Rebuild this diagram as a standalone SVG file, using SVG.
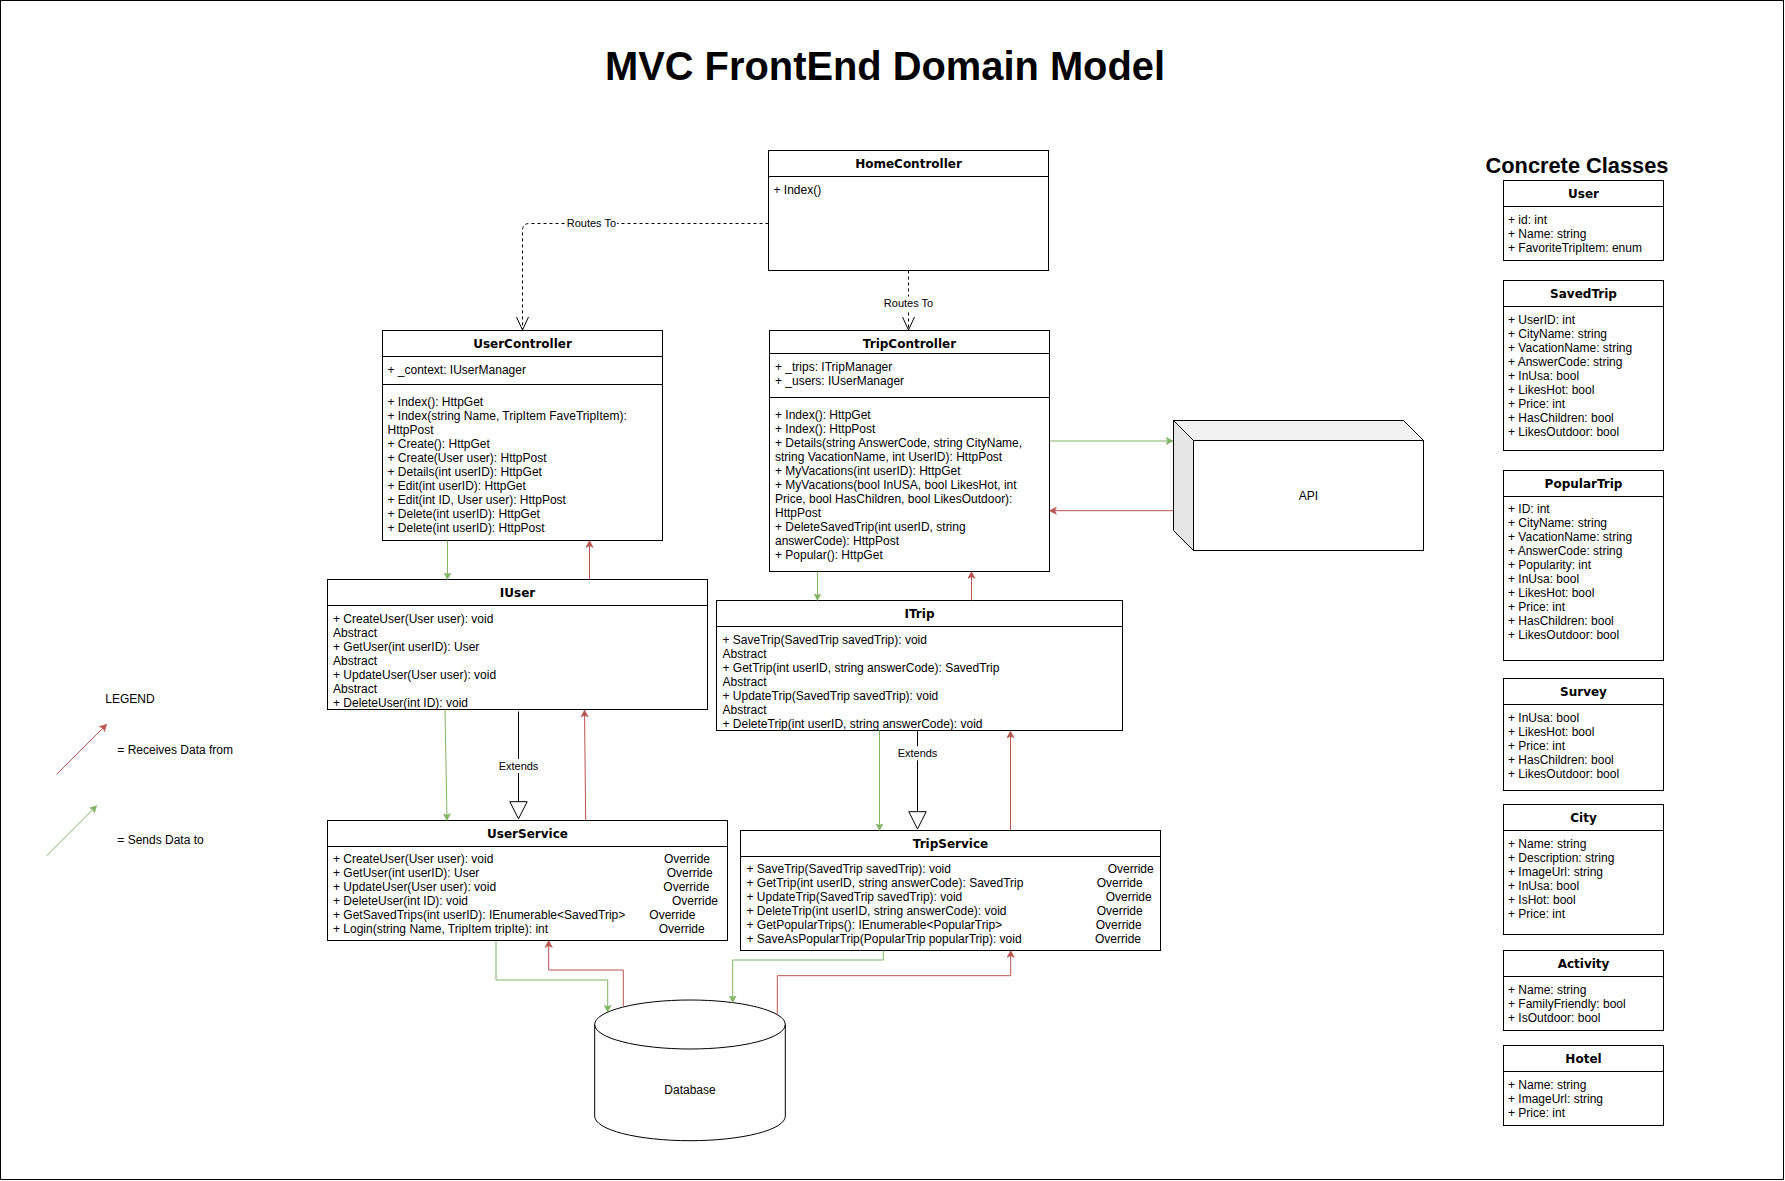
<svg xmlns="http://www.w3.org/2000/svg" width="1785" height="1181" viewBox="0 0 1785 1181">
<style>
.box{fill:#fff;stroke:#000;stroke-width:1}
.ln{stroke:#000;stroke-width:1;fill:none}
.t{font-family:"Liberation Sans",Arial,sans-serif;font-size:12px;fill:#000}
.h{font-family:"DejaVu Sans",Verdana,sans-serif;font-weight:bold;font-size:12px;fill:#000;text-anchor:middle}
.lbl{font-family:"Liberation Sans",Arial,sans-serif;font-size:11px;fill:#000;text-anchor:middle}
.bg{fill:#fff;stroke:none}
.g{stroke:#82b366;stroke-width:1;fill:none;marker-end:url(#ag)}
.r{stroke:#b85450;stroke-width:1;fill:none;marker-end:url(#ar)}
.d{stroke:#000;stroke-width:1;fill:none;stroke-dasharray:3 3;marker-end:url(#open)}
.tri{fill:#fff;stroke:#000;stroke-width:1}
</style>
<defs>
<marker id="ag" viewBox="0 0 7 8" refX="7" refY="4" markerWidth="7" markerHeight="8" markerUnits="userSpaceOnUse" orient="auto"><path d="M0,0.3 L7,4 L0,7.7 L1.8,4 Z" fill="#82b366" stroke="#82b366" stroke-width="0.5"/></marker>
<marker id="ar" viewBox="0 0 7 8" refX="7" refY="4" markerWidth="7" markerHeight="8" markerUnits="userSpaceOnUse" orient="auto"><path d="M0,0.3 L7,4 L0,7.7 L1.8,4 Z" fill="#b85450" stroke="#b85450" stroke-width="0.5"/></marker>
<marker id="open" viewBox="-1 -1 15 14" refX="13" refY="6" markerWidth="15" markerHeight="14" markerUnits="userSpaceOnUse" orient="auto"><path d="M0,0 L13,6 L0,12" fill="none" stroke="#000" stroke-width="1"/></marker>
</defs>
<rect x="0" y="0" width="1785" height="1181" fill="#fff"/>
<rect x="0.5" y="0.5" width="1783" height="1179" fill="none" stroke="#000" stroke-width="1"/>

<text x="885" y="80" font-family="'Liberation Sans',Arial,sans-serif" font-weight="bold" font-size="40" text-anchor="middle" textLength="560" lengthAdjust="spacingAndGlyphs">MVC FrontEnd Domain Model</text>
<text x="1577" y="173" font-family="'Liberation Sans',Arial,sans-serif" font-weight="bold" font-size="22" text-anchor="middle" textLength="183" lengthAdjust="spacingAndGlyphs">Concrete Classes</text>

<g id="HomeController">
<rect class="box" x="768.5" y="150.5" width="280" height="120"/>
<line class="ln" x1="768.5" y1="176.5" x2="1048.5" y2="176.5"/>
<text class="h" x="908.5" y="168">HomeController</text>
<text class="t" x="773.5" y="194">+ Index()</text>
</g>

<g id="UserController">
<rect class="box" x="382.5" y="330.5" width="280" height="210"/>
<line class="ln" x1="382.5" y1="356.5" x2="662.5" y2="356.5"/>
<line class="ln" x1="382.5" y1="384.5" x2="662.5" y2="384.5"/>
<text class="h" x="522.5" y="348">UserController</text>
<text class="t" x="387.5" y="374">+ _context: IUserManager</text>
<text class="t" x="387.5" y="405.7">+ Index(): HttpGet</text>
<text class="t" x="387.5" y="419.7">+ Index(string Name, TripItem FaveTripItem):</text>
<text class="t" x="387.5" y="433.7">HttpPost</text>
<text class="t" x="387.5" y="447.7">+ Create(): HttpGet</text>
<text class="t" x="387.5" y="461.7">+ Create(User user): HttpPost</text>
<text class="t" x="387.5" y="475.7">+ Details(int userID): HttpGet</text>
<text class="t" x="387.5" y="489.7">+ Edit(int userID): HttpGet</text>
<text class="t" x="387.5" y="503.7">+ Edit(int ID, User user): HttpPost</text>
<text class="t" x="387.5" y="517.7">+ Delete(int userID): HttpGet</text>
<text class="t" x="387.5" y="531.7">+ Delete(int userID): HttpPost</text>
</g>

<g id="TripController">
<rect class="box" x="769.5" y="330.5" width="280" height="241"/>
<line class="ln" x1="769.5" y1="353.5" x2="1049.5" y2="353.5"/>
<line class="ln" x1="769.5" y1="397.5" x2="1049.5" y2="397.5"/>
<text class="h" x="909.5" y="347.5">TripController</text>
<text class="t" x="775" y="371">+ _trips: ITripManager</text>
<text class="t" x="775" y="385">+ _users: IUserManager</text>
<text class="t" x="775" y="419">+ Index(): HttpGet</text>
<text class="t" x="775" y="433">+ Index(): HttpPost</text>
<text class="t" x="775" y="447">+ Details(string AnswerCode, string CityName,</text>
<text class="t" x="775" y="461">string VacationName, int UserID): HttpPost</text>
<text class="t" x="775" y="475">+ MyVacations(int userID): HttpGet</text>
<text class="t" x="775" y="489">+ MyVacations(bool InUSA, bool LikesHot, int</text>
<text class="t" x="775" y="503">Price, bool HasChildren, bool LikesOutdoor):</text>
<text class="t" x="775" y="517">HttpPost</text>
<text class="t" x="775" y="531">+ DeleteSavedTrip(int userID, string</text>
<text class="t" x="775" y="545">answerCode): HttpPost</text>
<text class="t" x="775" y="559">+ Popular(): HttpGet</text>
</g>

<g id="API">
<path d="M1193.5,440.5 L1173.5,420.5 L1403.5,420.5 L1423.5,440.5 Z" fill="#f2f2f2" stroke="#000" stroke-width="1"/>
<path d="M1173.5,420.5 L1193.5,440.5 L1193.5,550.5 L1173.5,530.5 Z" fill="#e6e6e6" stroke="#000" stroke-width="1"/>
<rect class="box" x="1193.5" y="440.5" width="230" height="110"/>
<text class="t" x="1308.5" y="500" text-anchor="middle">API</text>
</g>

<g id="IUser">
<rect class="box" x="327.5" y="579.5" width="380" height="130"/>
<line class="ln" x1="327.5" y1="605.5" x2="707.5" y2="605.5"/>
<text class="h" x="517.5" y="597">IUser</text>
<text class="t" x="333" y="622.7">+ CreateUser(User user): void</text>
<text class="t" x="333" y="636.7">Abstract</text>
<text class="t" x="333" y="650.7">+ GetUser(int userID): User</text>
<text class="t" x="333" y="664.7">Abstract</text>
<text class="t" x="333" y="678.7">+ UpdateUser(User user): void</text>
<text class="t" x="333" y="692.7">Abstract</text>
<text class="t" x="333" y="706.7">+ DeleteUser(int ID): void</text>
</g>

<g id="ITrip">
<rect class="box" x="716.5" y="600.5" width="406" height="130"/>
<line class="ln" x1="716.5" y1="626.5" x2="1122.5" y2="626.5"/>
<text class="h" x="919.5" y="617.5">ITrip</text>
<text class="t" x="722.5" y="644">+ SaveTrip(SavedTrip savedTrip): void</text>
<text class="t" x="722.5" y="658">Abstract</text>
<text class="t" x="722.5" y="672">+ GetTrip(int userID, string answerCode): SavedTrip</text>
<text class="t" x="722.5" y="686">Abstract</text>
<text class="t" x="722.5" y="700">+ UpdateTrip(SavedTrip savedTrip): void</text>
<text class="t" x="722.5" y="714">Abstract</text>
<text class="t" x="722.5" y="728">+ DeleteTrip(int userID, string answerCode): void</text>
</g>

<g id="UserService">
<rect class="box" x="327.5" y="820.5" width="400" height="120"/>
<line class="ln" x1="327.5" y1="846.5" x2="727.5" y2="846.5"/>
<text class="h" x="527.5" y="837.5">UserService</text>
<text class="t" x="333" y="863.3">+ CreateUser(User user): void</text>
<text class="t" x="333" y="877.3">+ GetUser(int userID): User</text>
<text class="t" x="333" y="891.3">+ UpdateUser(User user): void</text>
<text class="t" x="333" y="905.3">+ DeleteUser(int ID): void</text>
<text class="t" x="333" y="919.3">+ GetSavedTrips(int userID): IEnumerable&lt;SavedTrip&gt;</text>
<text class="t" x="333" y="933.3">+ Login(string Name, TripItem tripIte): int</text>
<text class="t" x="664" y="863.3">Override</text>
<text class="t" x="666.7" y="877.3">Override</text>
<text class="t" x="663.3" y="891.3">Override</text>
<text class="t" x="672" y="905.3">Override</text>
<text class="t" x="649.3" y="919.3">Override</text>
<text class="t" x="658.7" y="933.3">Override</text>
</g>

<g id="TripService">
<rect class="box" x="740.5" y="830.5" width="420" height="120"/>
<line class="ln" x1="740.5" y1="856.5" x2="1160.5" y2="856.5"/>
<text class="h" x="950.5" y="847.5">TripService</text>
<text class="t" x="746.5" y="873.3">+ SaveTrip(SavedTrip savedTrip): void</text>
<text class="t" x="746.5" y="887.3">+ GetTrip(int userID, string answerCode): SavedTrip</text>
<text class="t" x="746.5" y="901.3">+ UpdateTrip(SavedTrip savedTrip): void</text>
<text class="t" x="746.5" y="915.3">+ DeleteTrip(int userID, string answerCode): void</text>
<text class="t" x="746.5" y="929.3">+ GetPopularTrips(): IEnumerable&lt;PopularTrip&gt;</text>
<text class="t" x="746.5" y="943.3">+ SaveAsPopularTrip(PopularTrip popularTrip): void</text>
<text class="t" x="1107.7" y="873.3">Override</text>
<text class="t" x="1096.7" y="887.3">Override</text>
<text class="t" x="1105.7" y="901.3">Override</text>
<text class="t" x="1096.7" y="915.3">Override</text>
<text class="t" x="1095.7" y="929.3">Override</text>
<text class="t" x="1095" y="943.3">Override</text>
</g>

<g id="Database">
<path d="M594.7,1024.5 A95.3,24.5 0 0 1 785.3,1024.5 V1116.2 A95.3,24.5 0 0 1 594.7,1116.2 Z" fill="#fff" stroke="#000" stroke-width="1"/>
<path d="M594.7,1024.5 A95.3,24.5 0 0 0 785.3,1024.5" fill="none" stroke="#000" stroke-width="1"/>
<text class="t" x="690" y="1094.3" text-anchor="middle">Database</text>
</g>

<g id="User">
<rect class="box" x="1503.5" y="180.5" width="160" height="80"/>
<line class="ln" x1="1503.5" y1="206.5" x2="1663.5" y2="206.5"/>
<text class="h" x="1583.5" y="198">User</text>
<text class="t" x="1508" y="224">+ id: int</text>
<text class="t" x="1508" y="238">+ Name: string</text>
<text class="t" x="1508" y="252">+ FavoriteTripItem: enum</text>
</g>

<g id="SavedTrip">
<rect class="box" x="1503.5" y="280.5" width="160" height="170"/>
<line class="ln" x1="1503.5" y1="306.5" x2="1663.5" y2="306.5"/>
<text class="h" x="1583.5" y="298">SavedTrip</text>
<text class="t" x="1508" y="324">+ UserID: int</text>
<text class="t" x="1508" y="338">+ CityName: string</text>
<text class="t" x="1508" y="352">+ VacationName: string</text>
<text class="t" x="1508" y="366">+ AnswerCode: string</text>
<text class="t" x="1508" y="380">+ InUsa: bool</text>
<text class="t" x="1508" y="394">+ LikesHot: bool</text>
<text class="t" x="1508" y="408">+ Price: int</text>
<text class="t" x="1508" y="422">+ HasChildren: bool</text>
<text class="t" x="1508" y="436">+ LikesOutdoor: bool</text>
</g>

<g id="PopularTrip">
<rect class="box" x="1503.5" y="470.5" width="160" height="190"/>
<line class="ln" x1="1503.5" y1="496.5" x2="1663.5" y2="496.5"/>
<text class="h" x="1583.5" y="488">PopularTrip</text>
<text class="t" x="1508" y="513.3">+ ID: int</text>
<text class="t" x="1508" y="527.3">+ CityName: string</text>
<text class="t" x="1508" y="541.3">+ VacationName: string</text>
<text class="t" x="1508" y="555.3">+ AnswerCode: string</text>
<text class="t" x="1508" y="569.3">+ Popularity: int</text>
<text class="t" x="1508" y="583.3">+ InUsa: bool</text>
<text class="t" x="1508" y="597.3">+ LikesHot: bool</text>
<text class="t" x="1508" y="611.3">+ Price: int</text>
<text class="t" x="1508" y="625.3">+ HasChildren: bool</text>
<text class="t" x="1508" y="639.3">+ LikesOutdoor: bool</text>
</g>

<g id="Survey">
<rect class="box" x="1503.5" y="678.5" width="160" height="112"/>
<line class="ln" x1="1503.5" y1="704.5" x2="1663.5" y2="704.5"/>
<text class="h" x="1583.5" y="696">Survey</text>
<text class="t" x="1508" y="721.7">+ InUsa: bool</text>
<text class="t" x="1508" y="735.7">+ LikesHot: bool</text>
<text class="t" x="1508" y="749.7">+ Price: int</text>
<text class="t" x="1508" y="763.7">+ HasChildren: bool</text>
<text class="t" x="1508" y="777.7">+ LikesOutdoor: bool</text>
</g>

<g id="City">
<rect class="box" x="1503.5" y="804.5" width="160" height="130"/>
<line class="ln" x1="1503.5" y1="830.5" x2="1663.5" y2="830.5"/>
<text class="h" x="1583.5" y="822">City</text>
<text class="t" x="1508" y="847.7">+ Name: string</text>
<text class="t" x="1508" y="861.7">+ Description: string</text>
<text class="t" x="1508" y="875.7">+ ImageUrl: string</text>
<text class="t" x="1508" y="889.7">+ InUsa: bool</text>
<text class="t" x="1508" y="903.7">+ IsHot: bool</text>
<text class="t" x="1508" y="917.7">+ Price: int</text>
</g>

<g id="Activity">
<rect class="box" x="1503.5" y="950.5" width="160" height="80"/>
<line class="ln" x1="1503.5" y1="976.5" x2="1663.5" y2="976.5"/>
<text class="h" x="1583.5" y="968">Activity</text>
<text class="t" x="1508" y="993.7">+ Name: string</text>
<text class="t" x="1508" y="1007.7">+ FamilyFriendly: bool</text>
<text class="t" x="1508" y="1021.7">+ IsOutdoor: bool</text>
</g>

<g id="Hotel">
<rect class="box" x="1503.5" y="1045.5" width="160" height="80"/>
<line class="ln" x1="1503.5" y1="1071.5" x2="1663.5" y2="1071.5"/>
<text class="h" x="1583.5" y="1063">Hotel</text>
<text class="t" x="1508" y="1088.7">+ Name: string</text>
<text class="t" x="1508" y="1102.7">+ ImageUrl: string</text>
<text class="t" x="1508" y="1116.7">+ Price: int</text>
</g>

<g id="Legend">
<text class="t" x="105.3" y="703.3">LEGEND</text>
<text class="t" x="117.3" y="754">= Receives Data from</text>
<text class="t" x="117.3" y="844">= Sends Data to</text>
<path class="r" d="M56.7,774.3 L106.7,724.3"/>
<path class="g" d="M46.7,855.7 L96.7,805.7"/>
</g>

<g id="connectors">
<path class="d" d="M768.5,223.5 H529.5 Q522.5,223.5 522.5,230.5 V330"/>
<rect class="bg" x="566" y="216.5" width="51" height="14"/>
<text class="lbl" x="591.4" y="227.3">Routes To</text>
<path class="d" d="M908.5,270.5 V330"/>
<rect class="bg" x="883" y="296.5" width="51" height="14"/>
<text class="lbl" x="908.5" y="307.3">Routes To</text>

<path class="g" d="M447.5,540.5 V579.5"/>
<path class="r" d="M589.5,579.5 V540.5"/>
<path class="g" d="M445,709.5 L447,820.5"/>
<path class="r" d="M585.7,820.5 L584.5,710"/>
<path class="ln" d="M518.5,711.5 V801.7"/>
<polygon class="tri" points="509.8,801.7 527.2,801.7 518.5,818.8"/>
<rect class="bg" x="498" y="759" width="41" height="14"/>
<text class="lbl" x="518.5" y="770">Extends</text>

<path class="g" d="M817.5,571.5 V600.5"/>
<path class="r" d="M971.5,600.5 V571.5"/>
<path class="g" d="M879.5,730.5 V830.5"/>
<path class="r" d="M1010.5,830.5 V731"/>
<path class="ln" d="M917.5,730.5 V811.7"/>
<polygon class="tri" points="908.8,811.7 926.2,811.7 917.5,829"/>
<rect class="bg" x="897" y="746.3" width="41" height="14"/>
<text class="lbl" x="917.5" y="757.3">Extends</text>

<path class="g" d="M1049.5,441 H1173"/>
<path class="r" d="M1173.5,510.7 H1049.5"/>

<path class="g" d="M496,940.5 V980 H607.7 V1012"/>
<path class="r" d="M623.3,1006.5 V970 H548.7 V940.5"/>
<path class="g" d="M883.3,950.5 V960 H732.7 V1002.5"/>
<path class="r" d="M777.3,1014.5 V975.7 H1010.7 V950.5"/>
</g>
</svg>
